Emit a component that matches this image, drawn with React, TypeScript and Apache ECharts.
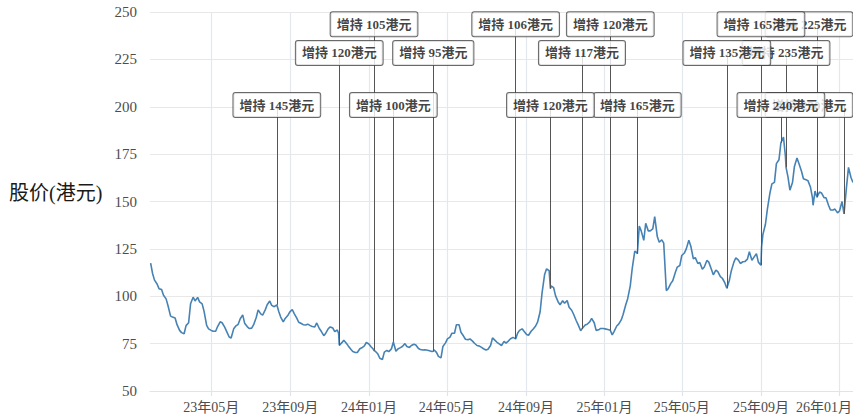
import React, { useEffect, useRef } from "react";
import * as echarts from "echarts";

const dates: string[] = [
  "2023-01-27","2023-01-30","2023-02-02","2023-02-06","2023-02-09","2023-02-13","2023-02-16","2023-02-20","2023-02-23","2023-02-27",
  "2023-03-02","2023-03-06","2023-03-09","2023-03-13","2023-03-16","2023-03-20","2023-03-23","2023-03-27","2023-03-30","2023-04-03",
  "2023-04-06","2023-04-10","2023-04-13","2023-04-17","2023-04-20","2023-04-24","2023-04-27","2023-05-01","2023-05-04","2023-05-08",
  "2023-05-11","2023-05-15","2023-05-18","2023-05-22","2023-05-25","2023-05-29","2023-06-01","2023-06-05","2023-06-08","2023-06-12",
  "2023-06-15","2023-06-19","2023-06-22","2023-06-26","2023-06-29","2023-07-03","2023-07-06","2023-07-10","2023-07-13","2023-07-17",
  "2023-07-20","2023-07-24","2023-07-27","2023-07-31","2023-08-03","2023-08-07","2023-08-11","2023-08-14","2023-08-17","2023-08-21",
  "2023-08-24","2023-08-28","2023-08-31","2023-09-04","2023-09-07","2023-09-11","2023-09-14","2023-09-18","2023-09-21","2023-09-25",
  "2023-09-28","2023-10-02","2023-10-05","2023-10-09","2023-10-12","2023-10-16","2023-10-19","2023-10-23","2023-10-26","2023-10-30",
  "2023-11-02","2023-11-06","2023-11-09","2023-11-13","2023-11-15","2023-11-16","2023-11-20","2023-11-23","2023-11-27","2023-11-30",
  "2023-12-04","2023-12-07","2023-12-11","2023-12-14","2023-12-18","2023-12-21","2023-12-25","2023-12-28","2024-01-01","2024-01-04",
  "2024-01-08","2024-01-09","2024-01-11","2024-01-15","2024-01-18","2024-01-22","2024-01-25","2024-01-29","2024-02-01","2024-02-05",
  "2024-02-08","2024-02-12","2024-02-15","2024-02-19","2024-02-22","2024-02-26","2024-02-29","2024-03-04","2024-03-07","2024-03-11",
  "2024-03-14","2024-03-18","2024-03-21","2024-03-25","2024-03-28","2024-04-01","2024-04-04","2024-04-08","2024-04-10","2024-04-11",
  "2024-04-15","2024-04-18","2024-04-22","2024-04-25","2024-04-29","2024-05-02","2024-05-06","2024-05-09","2024-05-13","2024-05-16",
  "2024-05-20","2024-05-23","2024-05-27","2024-05-30","2024-06-03","2024-06-06","2024-06-10","2024-06-13","2024-06-17","2024-06-20",
  "2024-06-24","2024-06-27","2024-07-01","2024-07-04","2024-07-08","2024-07-11","2024-07-15","2024-07-18","2024-07-22","2024-07-25",
  "2024-07-29","2024-08-01","2024-08-05","2024-08-08","2024-08-12","2024-08-16","2024-08-19","2024-08-22","2024-08-26","2024-08-29",
  "2024-09-02","2024-09-05","2024-09-09","2024-09-12","2024-09-16","2024-09-19","2024-09-23","2024-09-26","2024-09-30","2024-10-03",
  "2024-10-07","2024-10-09","2024-10-10","2024-10-14","2024-10-17","2024-10-21","2024-10-24","2024-10-28","2024-10-31","2024-11-04",
  "2024-11-07","2024-11-11","2024-11-14","2024-11-18","2024-11-21","2024-11-25","2024-11-27","2024-11-28","2024-12-02","2024-12-05",
  "2024-12-09","2024-12-12","2024-12-16","2024-12-19","2024-12-23","2024-12-26","2024-12-30","2025-01-02","2025-01-06","2025-01-09",
  "2025-01-10","2025-01-13","2025-01-16","2025-01-20","2025-01-23","2025-01-27","2025-01-30","2025-02-03","2025-02-06","2025-02-10",
  "2025-02-13","2025-02-17","2025-02-20","2025-02-21","2025-02-24","2025-02-27","2025-03-03","2025-03-06","2025-03-10","2025-03-13",
  "2025-03-17","2025-03-20","2025-03-24","2025-03-27","2025-03-31","2025-04-03","2025-04-07","2025-04-10","2025-04-14","2025-04-17",
  "2025-04-21","2025-04-24","2025-04-28","2025-05-01","2025-05-05","2025-05-08","2025-05-12","2025-05-15","2025-05-19","2025-05-22",
  "2025-05-26","2025-05-29","2025-06-02","2025-06-05","2025-06-09","2025-06-12","2025-06-16","2025-06-19","2025-06-23","2025-06-26",
  "2025-06-30","2025-07-03","2025-07-07","2025-07-10","2025-07-14","2025-07-17","2025-07-21","2025-07-24","2025-07-28","2025-07-31",
  "2025-08-04","2025-08-07","2025-08-11","2025-08-14","2025-08-18","2025-08-21","2025-08-25","2025-08-28","2025-09-01","2025-09-02",
  "2025-09-04","2025-09-08","2025-09-11","2025-09-15","2025-09-18","2025-09-22","2025-09-25","2025-09-29","2025-10-02","2025-10-06",
  "2025-10-09","2025-10-10","2025-10-13","2025-10-16","2025-10-20","2025-10-23","2025-10-27","2025-10-30","2025-11-03","2025-11-06",
  "2025-11-10","2025-11-13","2025-11-17","2025-11-20","2025-11-21","2025-11-24","2025-11-27","2025-12-01","2025-12-04","2025-12-08",
  "2025-12-11","2025-12-15","2025-12-18","2025-12-22","2025-12-25","2025-12-29","2026-01-01","2026-01-05","2026-01-08","2026-01-12",
  "2026-01-15","2026-01-19","2026-01-22",
];

const prices: number[] = [
  117.5,112,108.5,106.5,104,103.5,100.5,98.6,95,89.5,
  89,88.5,85,82,80.8,80.2,84.5,86,96,99.5,
  97.5,99.4,97,96,92,84.6,82.8,82,81.5,81.5,
  84,86.5,86,83.7,81.5,78.5,78,82.8,84.2,85.2,
  88,90.2,85.8,84,83,83.2,85,88.8,92.8,90.7,
  90,92.8,95.5,97.5,95.2,94.5,95.5,92,89,86.5,
  88.3,89.8,91.6,93,90.8,88.5,86.3,85.6,85,84.8,
  85.3,84.5,84,83.8,85.9,83,81.5,79.2,80.5,82.9,
  83.8,83.2,81.3,82.2,80.3,74.1,75.5,76.8,75.2,73.8,
  72,70.8,70.3,70.3,72.3,72.8,73.8,75.6,74.8,73.5,
  72,71.3,71,69.5,67.3,66.6,70.5,71.4,70.8,72.2,
  75.9,71,72.2,72.9,73.5,75,73.5,73,74,74.7,
  74.3,72.4,71.9,71.6,71.8,71.5,71.2,70.8,71,71.8,
  70.4,68.3,67.5,73.5,75.4,77.5,78.4,80.5,80.5,85,
  85,81,79,77.3,77,77.5,76.3,75.2,74,73.8,
  73,72.3,71.6,72,74,78,76.7,75.7,74.7,74,
  76.2,75.3,76.5,77.6,78.3,77.5,80.5,82,82.8,81.5,
  79.8,79.4,81.5,82.6,84.3,86.3,91.8,101.8,111.5,114.5,
  113.5,104,105.5,104.5,100.2,97,95.5,97.6,96.3,97.8,
  94.2,92.6,90.5,87.2,85,81.8,82.8,83.2,84.8,85.2,
  86.5,88.3,86,82,82.3,83,83,82.8,82.5,82.2,
  82,79.6,81.5,84.3,85.3,87.5,90.5,95.5,98.7,105.5,
  114.5,123.8,123,122.4,137,134.5,129.5,138.5,134.5,134.5,
  135.5,142,131.5,128.5,129.8,128,103,104,106.8,108.2,
  112.5,115.4,116.2,121.5,122.8,125,129.5,126.5,119.8,120.4,
  117.3,117.8,114.2,115.4,118.9,118,114.2,111.3,113.8,113,
  110.4,109.5,107,104.2,108.5,113.5,118,120.3,119.1,117.3,
  118.2,118.3,119.6,123.5,119,120.5,122.5,118,116.4,126,
  132.5,138,146,154.5,159.3,160.1,170,172,181,184,
  174,168,163,156,160,168.5,173,170,166,162,
  161.5,161,157.5,152,148,155.5,152.3,155,154.5,152,
  152,148,145.5,145.5,146,144,145,150,143.5,158,
  168,162.5,160,
];

const annDates: string[] = [
  "2023-08-11","2023-11-16","2024-01-09","2024-02-08","2024-04-10","2024-08-16","2024-10-09","2024-11-27",
  "2025-01-10","2025-02-21","2025-07-10","2025-09-01","2025-10-02","2025-10-10","2025-11-27","2026-01-08",
];
const annLabels: string[] = [
  "增持 145港元","增持 120港元","增持 105港元","增持 100港元","增持 95港元","增持 106港元","增持 120港元","增持 117港元",
  "增持 120港元","增持 165港元","增持 135港元","增持 165港元","增持 240港元","增持 235港元","增持 225港元","增持 230港元",
];
// row of the label box: 0 = top row, 1 = middle row, 2 = lower row
const annRows: number[] = [2, 1, 0, 2, 1, 0, 2, 1, 0, 2, 1, 0, 2, 1, 0, 2];

const xTickDates: string[] = [
  "2023-05-01","2023-09-01","2024-01-01","2024-05-01","2024-09-01","2025-01-01","2025-05-01","2025-09-01","2026-01-01",
];

const X_MIN = "2023-01-26";
const X_MAX = "2026-01-22";
const Y_MIN = 50;
const Y_MAX = 250;
const Y_STEP = 25;
const ROW_VALUES = [243.6, 228.4, 200.9];

const W = 853;
const H = 418;
const GRID_LEFT = 150;
const GRID_RIGHT = 0;
const GRID_TOP = 12;
const GRID_BOTTOM = 27;
const LABEL_HALF_W = 44;

const FONT = '"Liberation Serif", "Noto Sans CJK SC", serif';

function toTs(s: string): number {
  const [y, m, d] = s.split("-").map(Number);
  return new Date(y, m - 1, d).getTime();
}

function fmtMonth(v: number): string {
  const d = new Date(v);
  const yy = String(d.getFullYear()).slice(2);
  const mm = String(d.getMonth() + 1).padStart(2, "0");
  return `${yy}年${mm}月`;
}

export default function App() {
  const ref = useRef<HTMLDivElement>(null);

  useEffect(() => {
    if (!ref.current) return;
    const chart = echarts.init(ref.current, null, { renderer: "svg" });

    const tMin = toTs(X_MIN);
    const tMax = toTs(X_MAX);
    const plotW = W - GRID_LEFT - GRID_RIGHT;
    const rightEdge = W - GRID_RIGHT;
    const tickValues = xTickDates.map(toTs);
    const lastTick = tickValues[tickValues.length - 1];

    const priceData = dates.map((d, i) => [toTs(d), prices[i]]);

    const annPrice = annDates.map((d) => {
      const idx = dates.indexOf(d);
      return prices[idx];
    });

    const linesData = annDates.map((d, i) => ({
      coords: [
        [toTs(d), annPrice[i]],
        [toTs(d), ROW_VALUES[annRows[i]]],
      ],
    }));

    const labelItems = annDates.map((d, i) => {
      const px = GRID_LEFT + ((toTs(d) - tMin) / (tMax - tMin)) * plotW;
      const over = px + LABEL_HALF_W - rightEdge;
      const dx = over > 0 ? -over : 0;
      return {
        value: [toTs(d), ROW_VALUES[annRows[i]]],
        label: { offset: [dx, 0], formatter: annLabels[i] },
      };
    });
    // earlier boxes are drawn over later ones
    const labelData = labelItems.slice().reverse();

    const option: any = {
      animation: false,
      backgroundColor: "#ffffff",
      grid: {
        left: GRID_LEFT,
        right: GRID_RIGHT,
        top: GRID_TOP,
        bottom: GRID_BOTTOM,
        containLabel: false,
        outerBoundsMode: "none",
      },
      graphic: [
        {
          type: "text",
          left: 9,
          top: 183,
          style: {
            text: "股价(港元)",
            font: `20px ${FONT}`,
            fill: "#1a1a1a",
          },
        },
        {
          // last month label sits against the right edge of the picture
          type: "text",
          right: 1,
          top: 400,
          style: {
            text: fmtMonth(lastTick),
            font: `14px ${FONT}`,
            fill: "#4d4d4d",
          },
        },
      ],
      xAxis: {
        type: "value",
        min: tMin,
        max: tMax,
        axisLine: { show: true, lineStyle: { color: "#dfe4ec", width: 1.2 } },
        axisTick: {
          show: true,
          length: 5,
          customValues: tickValues,
          lineStyle: { color: "#dfe4ec", width: 1.2 },
        },
        axisLabel: {
          customValues: tickValues,
          margin: 9,
          fontSize: 14,
          fontFamily: FONT,
          color: "#4d4d4d",
          formatter: (v: number) => (v === lastTick ? "" : fmtMonth(v)),
        },
        splitLine: { show: true, lineStyle: { color: "#e3e7ee", width: 1.2 } },
      },
      yAxis: {
        type: "value",
        min: Y_MIN,
        max: Y_MAX,
        interval: Y_STEP,
        axisLine: { show: false },
        axisTick: { show: false },
        axisLabel: {
          margin: 13,
          fontSize: 15,
          fontFamily: FONT,
          color: "#4d4d4d",
        },
        splitLine: { show: true, lineStyle: { color: "#e8e8e8", width: 1.2 } },
      },
      series: [
        {
          type: "line",
          z: 2,
          data: priceData,
          showSymbol: false,
          symbol: "none",
          lineStyle: { color: "#4682b4", width: 1.6 },
          silent: true,
        },
        {
          type: "lines",
          coordinateSystem: "cartesian2d",
          z: 3,
          data: linesData,
          lineStyle: { color: "#555555", width: 1, opacity: 1, curveness: 0 },
          silent: true,
        },
        {
          type: "scatter",
          z: 5,
          symbolSize: 0,
          data: labelData,
          silent: true,
          label: {
            show: true,
            position: "inside",
            fontSize: 13,
            fontWeight: "bold",
            fontFamily: FONT,
            color: "#111111",
            backgroundColor: "#ffffff",
            borderColor: "#444444",
            borderWidth: 1,
            borderRadius: 2,
            padding: [5, 6],
            lineHeight: 14,
          },
        },
      ],
    };

    chart.setOption(option);
    return () => chart.dispose();
  }, []);

  return (
    <div
      ref={ref}
      style={{ position: "absolute", left: 0, top: 0, width: W, height: H }}
    />
  );
}
